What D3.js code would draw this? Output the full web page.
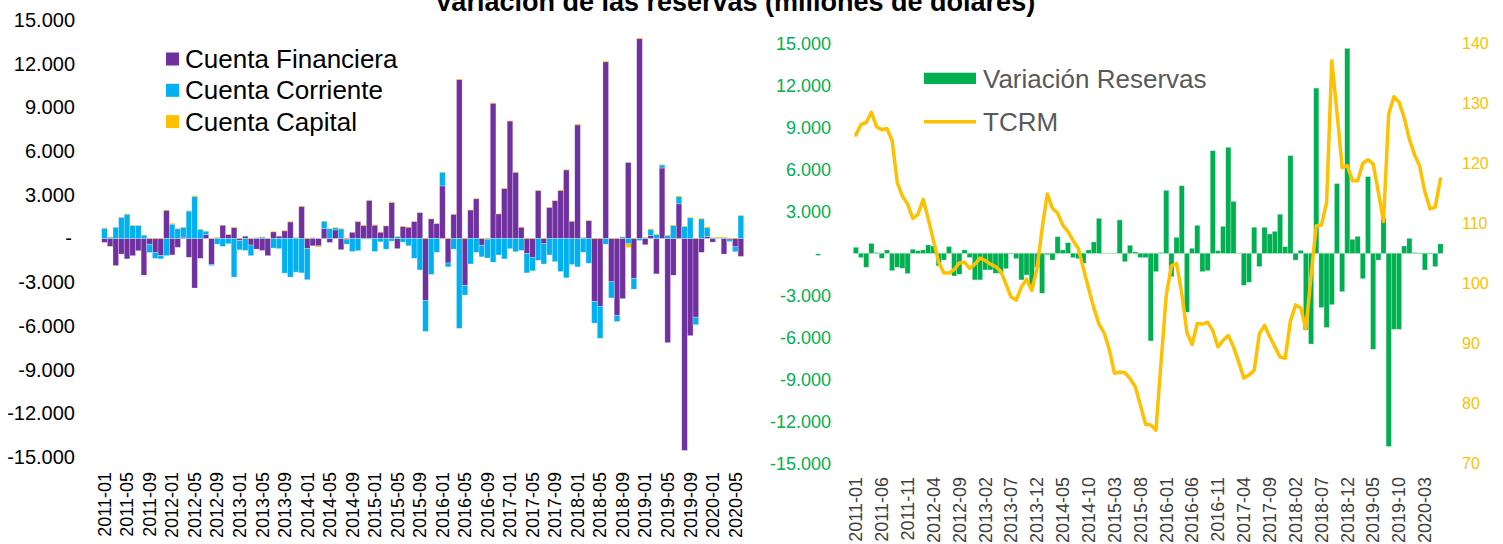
<!DOCTYPE html>
<html>
<head>
<meta charset="utf-8">
<script src="https://cdn.jsdelivr.net/npm/d3@7"></script>
<style>
  html, body { margin: 0; padding: 0; background: #fff; }
  svg { display: block; font-family: "Liberation Sans", Arial, sans-serif; }
</style>
</head>
<body>
<svg id="grafico" width="1503" height="544"></svg>
<script>
// meses 2011-01 .. 2020-06
const meses = [];
for (let i = 0; i < 114; i++) {
  const anio = 2011 + Math.floor(i / 12);
  const mes = (i % 12) + 1;
  meses.push(anio + "-" + String(mes).padStart(2, "0"));
}
const etiquetasIzq = meses.filter((m, i) => i % 4 === 0);   // 2011-01, 2011-05 ...
const etiquetasDer = meses.filter((m, i) => i % 5 === 0);   // 2011-01, 2011-06 ...

const ticksReservas = [-15000, -12000, -9000, -6000, -3000, 0, 3000, 6000, 9000, 12000, 15000];
const ticksTCRM = [70, 80, 90, 100, 110, 120, 130, 140];

// millones de dolares
const cuentaFinanciera = [
  -270, -540, -1860, -1070, -1400, -1180, -840, -2520, -390, -950,
  -1180, 1930, -1130, -610, 90, -1290, -3400, -1360, 270, -1770,
  50, 910, 270, 750, -140, 160, -450, -730, -820, -1180,
  450, 160, 520, 1130, 50, 2200, -700, -500, -500, 680,
  -270, 590, -770, -90, 430, 1160, 890, 2610, 910, 430,
  860, 2470, -700, 820, 770, 1160, 1770, -4250, 1340, 1020,
  3610, -1680, 1660, 10900, -3220, 1950, 2720, -460, -50, 9280,
  1680, 3430, 8060, 4540, 770, -1040, -1290, 3290, -360, 2130,
  2590, 3290, 4700, 1180, 7790, 50, 1220, -4330, -4650, 12120,
  -2970, -5290, -4130, 5220, -2750, 13710, -430, 200, -2430, 4840,
  -7150, -2520, 2380, -14550, -6670, -5400, -950, 140, -250, 0,
  -1070, -100, -570, -1230
];
const cuentaCorriente = [
  700, 90, 770, 1450, 1660, 890, 890, 230, -570, -410,
  -220, -1180, 980, 660, 680, 1880, 2880, 630, 230, -90,
  -390, -540, -360, -2650, -640, -820, -730, 50, 90, 0,
  -660, -700, -2380, -2650, -2310, -2360, -2130, 50, 0, 500,
  680, 140, 650, -300, -890, -840, -50, -50, -890, -230,
  -730, -180, 140, -250, -500, -1360, -2160, -2130, -2470, -950,
  930, -270, -730, -6170, -660, -1750, -950, -800, -1290, -1630,
  -1130, -1400, -700, -910, -820, -1320, -930, -1500, -1390, -1130,
  -1590, -2270, -2700, -1790, -1950, -950, -1700, -1480, -2200, -390,
  -1110, -410, 100, -360, -730, -140, 50, 430, 270, 200,
  200, 890, 480, 820, 1410, -520, 1340, 610, 50, 50,
  50, -110, -340, 1570
];
const cuentaCapital = [
  40, 30, 20, 30, 40, 30, 20, 30, 20, 30,
  20, 40, 60, 30, 20, 40, 60, 30, 20, 30,
  40, 20, 30, 40, 30, 20, 30, 20, 30, 20,
  40, 30, 30, 40, 20, 30, 40, 20, -80, 30,
  20, 30, 40, 30, 20, 30, 40, 30, 40, 30,
  20, 60, 30, 40, 30, 20, 30, 40, 30, 20,
  30, 40, 30, 50, 40, 30, 40, 30, 20, 40,
  30, 40, 30, 40, 30, 40, 30, 20, 40, 30,
  40, 50, 40, 30, 60, 40, 40, 30, 30, 50,
  30, 30, 30, -250, 40, 60, 30, 40, 50, 40,
  30, 40, 60, 30, 40, 30, 40, 60, 30, 50,
  40, 30, 40, 30
];
const variacionReservas = [
  430, -310, -1000, 710, 50, -360, 240, -1240, -1000, -1070,
  -1450, 290, 190, 240, 600, 520, -900, -480, 480, -1620,
  -1500, 240, -300, -1900, -1900, -1190, -1190, -1430, -1430, -1100,
  -50, -380, -1900, -1550, -2400, -1000, -2860, -100, -480, 1190,
  240, 760, -310, -380, -710, 240, 810, 2500, 0, 0,
  0, 2380, -600, 570, 100, -310, -310, -6260, -1310, 50,
  4500, -1670, 1140, 4830, -4210, 360, 2000, -1310, -1240, 7330,
  190, 1930, 7570, 3710, 0, -2290, -2070, 1860, -950, 1860,
  1380, 1570, 2790, 480, 6980, -480, 210, -5480, -6480, 11800,
  -3880, -5300, -3670, 4980, -2740, 14640, 1000, 1210, -1810, 5480,
  -6860, -480, 2500, -13800, -5430, -5430, 520, 1070, 50, -50,
  -1190, -50, -950, 670
];
const tcrm = [
  124.7, 126.5, 126.8, 128.5, 126.1, 125.6, 125.8, 123.8, 116.8, 114.5,
  113.2, 110.8, 111.5, 114.0, 110.7, 107.1, 103.5, 101.7, 101.7, 102.3,
  103.4, 103.5, 102.5, 103.2, 104.2, 103.8, 103.2, 102.8, 102.0, 99.9,
  97.7, 97.2, 99.4, 100.7, 98.8, 102.4, 109.1, 114.9, 112.5, 111.7,
  109.7, 108.6, 107.1, 105.8, 102.4, 99.1, 95.9, 93.2, 91.7, 88.9,
  85.0, 85.2, 85.1, 84.1, 82.8, 79.7, 76.5, 76.4, 75.5, 86.9,
  98.0, 102.9, 103.3, 98.3, 91.8, 89.8, 93.3, 93.2, 93.5, 92.1,
  89.4, 90.5, 91.3, 89.4, 86.9, 84.2, 84.7, 85.5, 91.6, 93.0,
  91.1, 89.4, 87.7, 87.5, 93.7, 96.4, 95.9, 92.4, 101.3, 109.6,
  109.7, 113.5, 137.1, 128.5, 119.3, 119.6, 117.1, 117.1, 120.0, 120.6,
  119.9, 115.2, 110.3, 128.2, 131.1, 130.2, 127.6, 124.0, 121.4, 119.5,
  115.2, 112.4, 112.7, 117.4
];

const colores = { CF: "#7030A0", CC: "#00B0F0", CK: "#FFC000" };
const verde = "#00B050";
const amarillo = "#FFC000";
const fuente = '"Liberation Sans", Arial, sans-serif';

const loc = d3.formatLocale({ decimal: ",", thousands: ".", grouping: [3], currency: ["$", ""], minus: "-" });
const fmtMiles = v => v === 0 ? "-" : loc.format(",.0f")(v);

const svg = d3.select("#grafico");

// titulo (cortado arriba, como en el original)
svg.append("text")
  .attr("x", 735).attr("y", 11)
  .attr("text-anchor", "middle")
  .attr("font-size", 27).attr("font-weight", "bold")
  .attr("font-family", fuente)
  .text("Variación de las reservas (millones de dólares)");

// ---------- grafico izquierdo: cuentas apiladas ----------
const xL = d3.scaleBand().domain(meses).range([101.7, 743.7]).padding(0);
const yL = d3.scaleLinear().domain([-15000, 15000]).range([457, 20]);

const filas = meses.map((m, i) => ({
  mes: m, CF: cuentaFinanciera[i], CC: cuentaCorriente[i], CK: cuentaCapital[i]
}));
const pila = d3.stack().keys(["CF", "CC", "CK"]).offset(d3.stackOffsetDiverging)(filas);

svg.append("g").selectAll("g")
  .data(pila)
  .join("g")
  .attr("fill", d => colores[d.key])
  .attr("stroke", d => d.key === "CK" ? "none" : "#fff")
  .attr("stroke-opacity", 0.45)
  .attr("stroke-width", 0.6)
  .selectAll("rect")
  .data(d => d)
  .join("rect")
  .attr("x", d => xL(d.data.mes))
  .attr("width", xL.bandwidth())
  .attr("y", d => yL(Math.max(d[0], d[1])))
  .attr("height", d => Math.abs(yL(d[0]) - yL(d[1])));

const gyL = svg.append("g")
  .attr("transform", "translate(78,0)")
  .call(d3.axisLeft(yL).tickValues(ticksReservas).tickSize(0).tickPadding(3).tickFormat(fmtMiles));
gyL.select(".domain").remove();
gyL.selectAll("text").attr("font-size", 20).attr("font-family", fuente).attr("fill", "#000");
gyL.selectAll(".tick").filter(d => d === 0).select("text").attr("dx", -3);

const gxL = svg.append("g")
  .attr("transform", "translate(0,470)")
  .call(d3.axisBottom(xL).tickValues(etiquetasIzq).tickSize(0));
gxL.select(".domain").remove();
gxL.selectAll("text")
  .attr("transform", "rotate(-90)")
  .attr("text-anchor", "end")
  .attr("x", -2).attr("y", 0).attr("dy", "0.35em")
  .attr("font-size", 18).attr("font-family", fuente).attr("fill", "#000");

// leyenda izquierda
const leyIzq = [
  { k: "CF", t: "Cuenta Financiera" },
  { k: "CC", t: "Cuenta Corriente" },
  { k: "CK", t: "Cuenta Capital" }
];
const gLeyI = svg.append("g");
leyIzq.forEach((d, i) => {
  const yc = 59 + i * 31.3;
  gLeyI.append("rect").attr("x", 166).attr("y", yc - 6.5).attr("width", 13).attr("height", 13).attr("fill", colores[d.k]);
  gLeyI.append("text").attr("x", 185).attr("y", yc).attr("dy", "0.35em")
    .attr("font-size", 26).attr("font-family", fuente).attr("fill", "#000").text(d.t);
});

// ---------- grafico derecho: variacion reservas + TCRM ----------
const xR = d3.scaleBand().domain(meses).range([853.3, 1443]).padding(0);
const yR = d3.scaleLinear().domain([-15000, 15000]).range([463.3, 43.3]);
const yT = d3.scaleLinear().domain([70, 140]).range([463.3, 43.3]);

svg.append("line")
  .attr("x1", 853.3).attr("x2", 1443)
  .attr("y1", yR(0)).attr("y2", yR(0))
  .attr("stroke", "#9fdcb4").attr("stroke-width", 1);

svg.append("g").selectAll("rect")
  .data(variacionReservas)
  .join("rect")
  .attr("x", (d, i) => xR(meses[i]))
  .attr("width", xR.bandwidth())
  .attr("y", d => yR(Math.max(0, d)))
  .attr("height", d => Math.abs(yR(d) - yR(0)))
  .attr("fill", verde)
  .attr("stroke", "#fff").attr("stroke-opacity", 0.45).attr("stroke-width", 0.6);

const linea = d3.line()
  .x((d, i) => xR(meses[i]) + xR.bandwidth() / 2)
  .y(d => yT(d));
svg.append("path")
  .datum(tcrm)
  .attr("d", linea)
  .attr("fill", "none")
  .attr("stroke", amarillo)
  .attr("stroke-width", 3.5)
  .attr("stroke-linejoin", "round")
  .attr("stroke-linecap", "round");

const gyR = svg.append("g")
  .attr("transform", "translate(834,0)")
  .call(d3.axisLeft(yR).tickValues(ticksReservas).tickSize(0).tickPadding(3).tickFormat(fmtMiles));
gyR.select(".domain").remove();
gyR.selectAll("text").attr("font-size", 18).attr("font-family", fuente).attr("fill", verde);
gyR.selectAll(".tick").filter(d => d === 0).select("text").attr("dx", -10);

const gyT = svg.append("g")
  .attr("transform", "translate(1459,0)")
  .call(d3.axisRight(yT).tickValues(ticksTCRM).tickSize(0).tickPadding(3));
gyT.select(".domain").remove();
gyT.selectAll("text").attr("font-size", 16).attr("font-family", fuente).attr("fill", amarillo);

const gxR = svg.append("g")
  .attr("transform", "translate(0,475)")
  .call(d3.axisBottom(xR).tickValues(etiquetasDer).tickSize(0));
gxR.select(".domain").remove();
gxR.selectAll("text")
  .attr("transform", "rotate(-90)")
  .attr("text-anchor", "end")
  .attr("x", -2).attr("y", 0).attr("dy", "0.35em")
  .attr("font-size", 18).attr("font-family", fuente).attr("fill", "#404040");

// leyenda derecha
const gLeyD = svg.append("g");
gLeyD.append("rect").attr("x", 924).attr("y", 72.7).attr("width", 52).attr("height", 11.3).attr("fill", verde);
gLeyD.append("text").attr("x", 983).attr("y", 78.4).attr("dy", "0.35em")
  .attr("font-size", 26).attr("font-family", fuente).attr("fill", "#595959").text("Variación Reservas");
gLeyD.append("line").attr("x1", 924).attr("x2", 976).attr("y1", 121.7).attr("y2", 121.7)
  .attr("stroke", amarillo).attr("stroke-width", 3.5);
gLeyD.append("text").attr("x", 983).attr("y", 121.7).attr("dy", "0.35em")
  .attr("font-size", 26).attr("font-family", fuente).attr("fill", "#595959").text("TCRM");
</script>
</body>
</html>
